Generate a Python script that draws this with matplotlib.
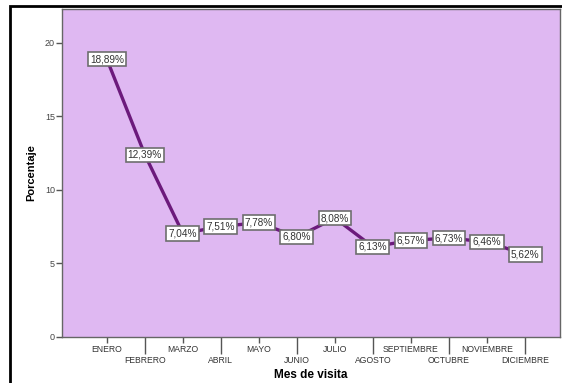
import matplotlib
matplotlib.use('Agg')
import matplotlib.pyplot as plt
from matplotlib.patches import Rectangle

plt.rcParams['font.family'] = ['Liberation Sans', 'DejaVu Sans']

# data
meses = ['ENERO', 'FEBRERO', 'MARZO', 'ABRIL', 'MAYO', 'JUNIO', 'JULIO',
         'AGOSTO', 'SEPTIEMBRE', 'OCTUBRE', 'NOVIEMBRE', 'DICIEMBRE']
porcentaje = [18.89, 12.39, 7.04, 7.51, 7.78, 6.80, 8.08,
              6.13, 6.57, 6.73, 6.46, 5.62]
y_ticks = [0, 5, 10, 15, 20]

fig = plt.figure(figsize=(5.62, 3.83), dpi=100)
fig.patch.set_facecolor('white')
ax = fig.add_axes([62 / 562, 46 / 383, 498 / 562, 328 / 383])
ax.set_facecolor('#dfb8f2')

x = list(range(len(meses)))
ax.plot(x, porcentaje, color='#6c1a7c', linewidth=2.4, zorder=2)

for xi, v in zip(x, porcentaje):
    txt = ('%.2f%%' % v).replace('.', ',')
    ax.text(xi, v, txt, ha='center', va='center', fontsize=7.2, color='#333333', zorder=3,
            bbox=dict(boxstyle='square,pad=0.22', facecolor='white', edgecolor='#6e6e6e', linewidth=1.2))

ax.set_xlim(-1.18, 11.92)
ax.set_ylim(0, 22.3)

# odd months on the first row (major), even months on a second row (minor)
ax.set_xticks(x[0::2], labels=meses[0::2])
ax.set_xticks(x[1::2], labels=meses[1::2], minor=True)
ax.tick_params(axis='x', which='major', length=4, width=1, color='#555555', pad=1.5,
               labelsize=6.2, labelcolor='#333333')
ax.tick_params(axis='x', which='minor', length=12, width=1, color='#555555', pad=1.5,
               labelsize=6.2, labelcolor='#333333')
ax.set_yticks(y_ticks)
ax.tick_params(axis='y', length=4, width=1, color='#555555', pad=1,
               labelsize=6.5, labelcolor='#444444')

for s in ax.spines.values():
    s.set_color('#666666')
    s.set_linewidth(1)

ax.set_xlabel('Mes de visita', fontsize=8.5, fontweight='bold', labelpad=3)
ax.set_ylabel('Porcentaje', fontsize=8, fontweight='bold', labelpad=6)

# outer frame of the original screenshot
fig.patches.append(Rectangle((10 / 562, -0.05), 1.1, 1 - 6 / 383 + 0.05, transform=fig.transFigure,
                             fill=False, edgecolor='black', linewidth=2, zorder=0))

fig.savefig('out.png', dpi=100)
